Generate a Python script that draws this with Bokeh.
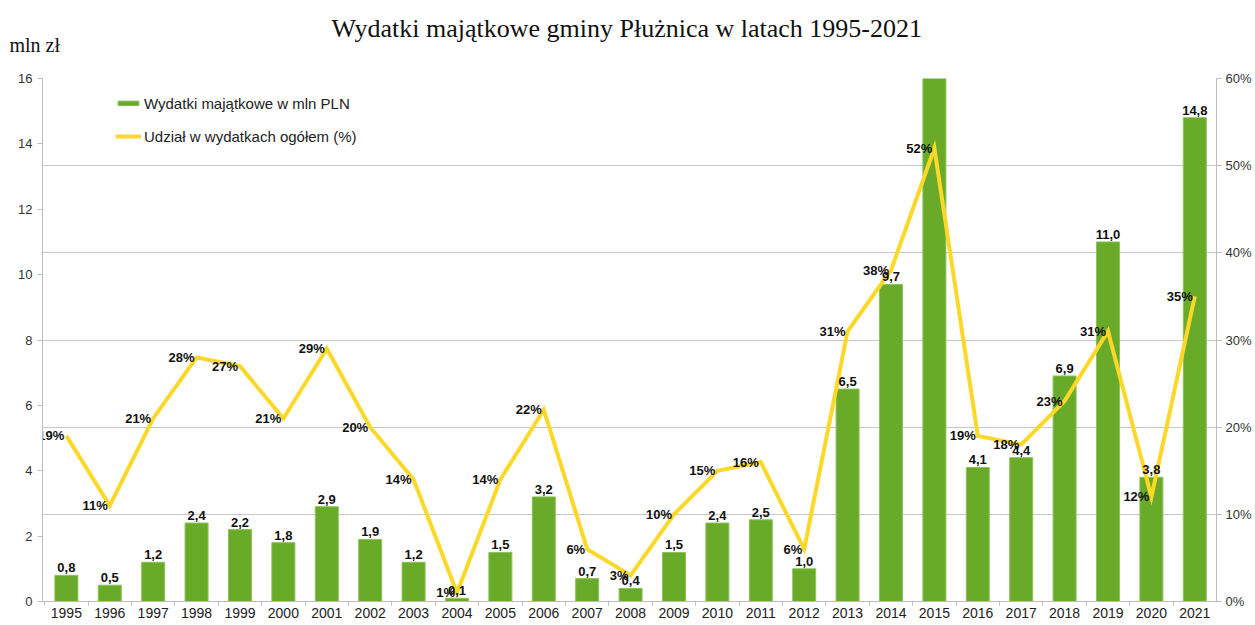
from bokeh.plotting import figure
from bokeh.models import (Range1d, LinearAxis, FixedTicker, PrintfTickFormatter, Grid,
                          Legend, LegendItem, Title, ColumnDataSource)
from bokeh.core.properties import value
from bokeh.embed import file_html
from bokeh.resources import INLINE

years = list(range(1995, 2022))
spend = [0.8, 0.5, 1.2, 2.4, 2.2, 1.8, 2.9, 1.9, 1.2, 0.1, 1.5, 3.2, 0.7, 0.4, 1.5,
         2.4, 2.5, 1.0, 6.5, 9.7, 16.0, 4.1, 4.4, 6.9, 11.0, 3.8, 14.8]
share = [19, 11, 21, 28, 27, 21, 29, 20, 14, 1, 14, 22, 6, 3, 10,
         15, 16, 6, 31, 38, 52, 19, 18, 23, 31, 12, 35]
left_ticks = [0, 2, 4, 6, 8, 10, 12, 14, 16]
right_ticks = [0, 10, 20, 30, 40, 50, 60]
title_text = "Wydatki majątkowe gminy Płużnica w latach 1995-2021"
unit_text = "mln zł"
bar_name = "Wydatki majątkowe w mln PLN"
line_name = "Udział w wydatkach ogółem (%)"

GREEN = "#6aaa29"
YELLOW = "#fdd828"
GRAY = "#bdbdbd"
SANS = "Liberation Sans"
SERIF = "Liberation Serif"

W, H = 1254, 623
BL, BR, BT, BB = 42, 36, 78, 22
FH = H - BT - BB

src = ColumnDataSource(dict(
    x=years, spend=spend, share=share,
    spend_lbl=[f"{v:.1f}".replace(".", ",") for v in spend],
    share_lbl=[f"{v}%" for v in share],
))

p = figure(width=W, height=H, output_backend="svg", toolbar_location=None,
           x_range=Range1d(1994.45, 2021.5), y_range=Range1d(0, 16),
           min_border_left=BL, min_border_right=BR, min_border_top=BT, min_border_bottom=BB,
           outline_line_color=None, background_fill_color="white")
p.extra_y_ranges = {"pct": Range1d(0, 60)}

p.xgrid.visible = False
p.ygrid.visible = False
p.add_layout(Grid(dimension=1, ticker=FixedTicker(ticks=right_ticks), y_range_name="pct",
                  grid_line_color="#c8c8c8", grid_line_width=1))

bars = p.vbar(x="x", top="spend", width=0.53, source=src, fill_color=GREEN,
              line_color="#8cc25a", line_width=1)
line = p.line(x="x", y="share", source=src, y_range_name="pct", line_color=YELLOW,
              line_width=4, line_join="miter")

p.text(x="x", y="spend", text="spend_lbl", source=src, text_align="center",
       text_baseline="bottom", y_offset=-3, text_font=value(SANS), text_font_size="13px",
       text_font_style="bold", text_color="#111111")
p.text(x="x", y="share", text="share_lbl", source=src, y_range_name="pct",
       text_align="right", text_baseline="middle", x_offset=-2, text_font=value(SANS),
       text_font_size="13px", text_font_style="bold", text_color="#111111")

xa = p.xaxis[0]
xa.ticker = FixedTicker(ticks=years, minor_ticks=[y + 0.5 for y in years[:-1]] + [1994.5])
xa.major_tick_out = 0
xa.major_tick_in = 0
xa.minor_tick_out = 4
xa.minor_tick_in = 0
xa.minor_tick_line_color = GRAY
xa.axis_line_color = GRAY
xa.major_label_standoff = 2
xa.major_label_text_font = SANS
xa.major_label_text_font_size = "14px"
xa.major_label_text_color = "#222222"

ya = p.yaxis[0]
ya.ticker = FixedTicker(ticks=left_ticks)
ya.axis_line_color = GRAY
ya.major_tick_line_color = GRAY
ya.major_tick_out = 5
ya.major_tick_in = 0
ya.minor_tick_line_color = None
ya.major_label_standoff = 5
ya.major_label_text_font = SANS
ya.major_label_text_font_size = "13px"
ya.major_label_text_color = "#333333"

ra = LinearAxis(y_range_name="pct", ticker=FixedTicker(ticks=right_ticks),
                formatter=PrintfTickFormatter(format="%d%%"))
ra.axis_line_color = GRAY
ra.major_tick_line_color = GRAY
ra.major_tick_out = 5
ra.major_tick_in = 0
ra.minor_tick_line_color = None
ra.major_label_standoff = 4
ra.major_label_text_font = SANS
ra.major_label_text_font_size = "13px"
ra.major_label_text_color = "#333333"
p.add_layout(ra, "right")

legend = Legend(items=[LegendItem(label=bar_name, renderers=[bars]),
                       LegendItem(label=line_name, renderers=[line])],
                location=(73, FH - 15 - 53), border_line_color=None,
                background_fill_alpha=0, padding=0, margin=0, spacing=13,
                glyph_width=26, glyph_height=6, label_height=20, label_standoff=3,
                label_text_font=SANS, label_text_font_size="15px", label_text_color="#222222")
p.add_layout(legend)

p.add_layout(Title(text=unit_text, align="left", offset=-33, standoff=46,
                   text_font=SERIF, text_font_size="20px", text_font_style="normal",
                   text_color="#111111"), "above")
p.add_layout(Title(text=title_text, align="left", offset=289, standoff=-68,
                   text_font=SERIF, text_font_size="26px", text_font_style="normal",
                   text_color="#111111"), "above")

open("out.html", "w").write(file_html(p, INLINE))
